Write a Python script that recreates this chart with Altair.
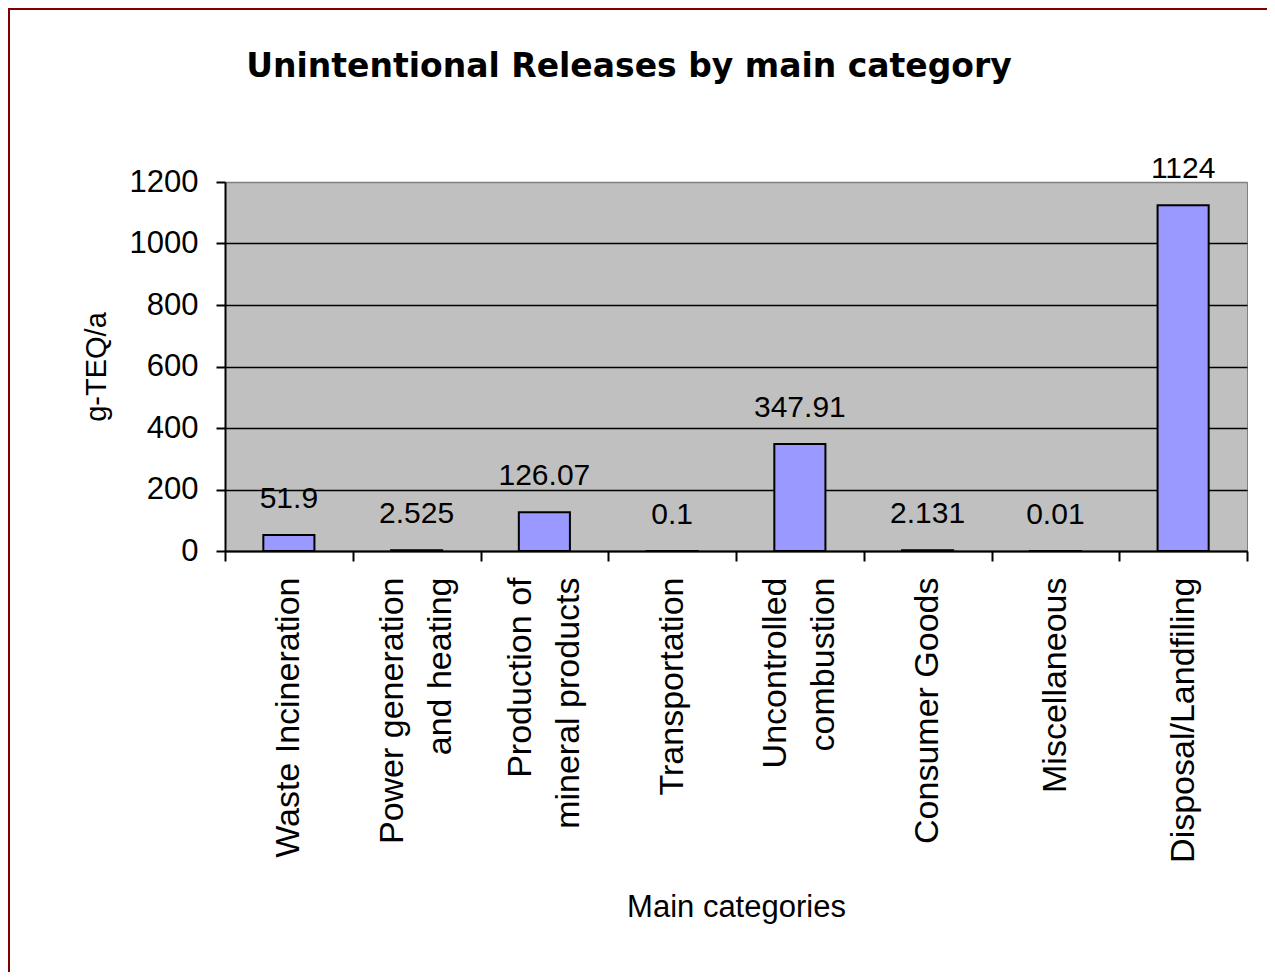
import altair as alt
import pandas as pd

categories = [
    "Waste Incineration",
    "Power generation\nand heating",
    "Production of\nmineral products",
    "Transportation",
    "Uncontrolled\ncombustion",
    "Consumer Goods",
    "Miscellaneous",
    "Disposal/Landfiling",
]
values = [51.9, 2.525, 126.07, 0.1, 347.91, 2.131, 0.01, 1124]
value_labels = ["51.9", "2.525", "126.07", "0.1", "347.91", "2.131", "0.01", "1124"]
y_ticks = [0, 200, 400, 600, 800, 1000, 1200]

df = pd.DataFrame({"category": categories, "value": values, "label": value_labels})

W, H = 1022, 369
FONT = "Liberation Sans"

x_axis = alt.Axis(
    title="Main categories",
    labelAngle=270,
    labelAlign="right",
    labelBaseline="middle",
    labelExpr="split(datum.label, '\\n')",
    labelOffset={"condition": {"test": "indexof(datum.label, '\\n') >= 0", "value": -24}, "value": 0},
    labelFontSize=34,
    labelLineHeight=48,
    labelPadding=16,
    labelLimit=600,
    labelOverlap=False,
    tickBand="extent",
    tickSize=10,
    tickWidth=2,
    tickColor="black",
    domainColor="black",
    domainWidth=2,
    grid=False,
    titleFontSize=31,
    titlePadding=141,
    titleFontWeight="normal",
)

y_axis = alt.Axis(
    title="g-TEQ/a",
    values=y_ticks,
    format="d",
    grid=True,
    gridColor={"condition": {"test": "datum.value >= 1200", "value": "#808080"}, "value": "black"},
    gridWidth=1.5,
    tickSize=9,
    tickWidth=2,
    tickColor="black",
    domainColor="black",
    domainWidth=2,
    labelPadding=18,
    labelFontSize=31,
    labelLimit=400,
    titleFontSize=29,
    titlePadding=18,
    titleFontWeight="normal",
)

x_enc = alt.X("category:N", sort=categories,
              scale=alt.Scale(paddingInner=0, paddingOuter=0), axis=x_axis)
y_enc = alt.Y("value:Q", scale=alt.Scale(domain=[0, 1200], nice=False), axis=y_axis)

bars = alt.Chart(df).mark_bar(
    fill="#9999FF", stroke="black", strokeWidth=2, width=alt.RelativeBandSize(0.4)
).encode(x=x_enc, y=y_enc)

text = alt.Chart(df).mark_text(
    font=FONT, fontSize=30, baseline="alphabetic", dy=-27, color="black"
).encode(x=alt.X("category:N", sort=categories), y=alt.Y("value:Q"), text="label:N")

border = alt.Chart(pd.DataFrame({"k": [0]})).mark_rect(
    fillOpacity=0, fill="white", stroke="#800000", strokeWidth=2
).encode(
    x=alt.value(-216), x2=alt.value(W + 80), y=alt.value(-173), y2=alt.value(H + 500)
)

chart = alt.layer(border, bars, text).properties(
    width=W,
    height=H,
    title=alt.TitleParams(
        "Unintentional Releases by main category",
        font="DejaVu Sans",
        fontSize=33,
        fontWeight="bold",
        color="black",
        anchor="middle",
        frame="group",
        dx=-107,
        offset=-76,
    ),
    padding={"left": 217, "top": 174, "right": 20, "bottom": 421},
    autosize=alt.AutoSizeParams(type="none"),
).configure(
    background="white",
).configure_view(
    fill="#C0C0C0", stroke="#808080", strokeWidth=1
).configure_axis(
    labelFont=FONT, titleFont=FONT, labelColor="black", titleColor="black"
)

chart.save("out.html", embed_options={"renderer": "svg", "actions": False})
